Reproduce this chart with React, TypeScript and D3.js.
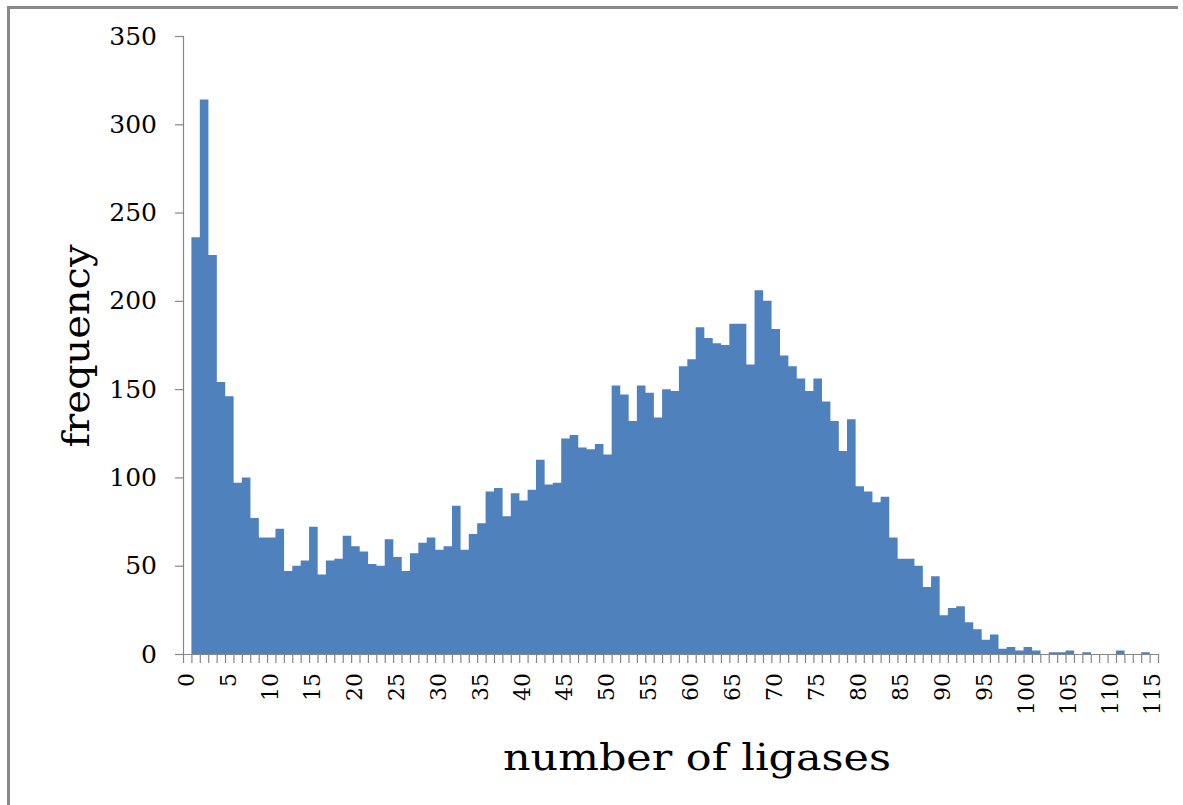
import React from "react";
import * as d3 from "d3";

const ligaseCounts: number[] = d3.range(0, 116);
const frequencies: number[] = [
  0, 236, 314, 226, 154, 146, 97, 100, 77, 66,
  66, 71, 47, 50, 53, 72, 45, 53, 54, 67,
  61, 58, 51, 50, 65, 55, 47, 57, 63, 66,
  59, 61, 84, 59, 68, 74, 92, 94, 78, 91,
  87, 93, 110, 96, 97, 122, 124, 117, 116, 119,
  113, 152, 147, 132, 152, 148, 134, 150, 149, 163,
  167, 185, 179, 176, 175, 187, 187, 164, 206, 200,
  184, 169, 163, 156, 149, 156, 143, 132, 115, 133,
  95, 92, 86, 89, 66, 54, 54, 50, 38, 44,
  22, 26, 27, 18, 14, 8, 11, 3, 4, 2,
  4, 2, 0, 1, 1, 2, 0, 1, 0, 0,
  0, 2, 0, 0, 1, 0,
];
const yTicks: number[] = [0, 50, 100, 150, 200, 250, 300, 350];
const xLabelTicks: number[] = d3.range(0, 116, 5);
const xTitle = "number of ligases";
const yTitle = "frequency";

const W = 1183;
const H = 805;
const left = 183;
const right = 1158;
const top = 36;
const bottom = 654;
const FONT = "'DejaVu Serif', serif";
const AXIS = "#868686";
const BAR = "#4F81BD";

export default function App() {
  const x = d3.scaleBand<number>().domain(ligaseCounts).range([left, right]).padding(0);
  const y = d3.scaleLinear().domain([0, 350]).range([bottom, top]);
  const bw = x.bandwidth();

  const p = d3.path();
  frequencies.forEach((v, i) => {
    if (v > 0) {
      const x0 = x(ligaseCounts[i])!;
      p.rect(x0, y(v), bw + 0.2, y(0) - y(v));
    }
  });

  return (
    <div style={{ position: "absolute", left: 0, top: 0, width: W, height: H, background: "#fff" }}>
      <svg width={W} height={H} style={{ display: "block" }}>
        <rect x={0} y={0} width={W} height={H} fill="#fff" />
        {/* outer frame */}
        <line x1={8.5} y1={7.5} x2={8.5} y2={H} stroke="#8a8a8a" strokeWidth={3} />
        <line x1={7} y1={7.5} x2={1178} y2={7.5} stroke="#8a8a8a" strokeWidth={3} />

        {/* bars */}
        <path d={p.toString()} fill={BAR} fillRule="nonzero" />

        {/* y axis */}
        <line x1={left + 0.5} y1={top} x2={left + 0.5} y2={bottom} stroke={AXIS} strokeWidth={1.2} />
        {yTicks.map((t) => (
          <g key={t}>
            <line x1={left - 8} y1={y(t) + 0.5} x2={left} y2={y(t) + 0.5} stroke={AXIS} strokeWidth={1.2} />
            <text
              x={157}
              y={y(t)}
              textAnchor="end"
              dominantBaseline="central"
              fontFamily={FONT}
              fontSize={25}
              fill="#000"
            >
              {t}
            </text>
          </g>
        ))}

        {/* x axis */}
        <line x1={left} y1={bottom + 0.5} x2={right} y2={bottom + 0.5} stroke={AXIS} strokeWidth={1.2} />
        {d3.range(0, ligaseCounts.length + 1).map((i) => {
          const xx = i < ligaseCounts.length ? x(ligaseCounts[i])! : right;
          return (
            <line
              key={"t" + i}
              x1={xx + 0.5}
              y1={bottom}
              x2={xx + 0.5}
              y2={bottom + 9}
              stroke={AXIS}
              strokeWidth={1.2}
            />
          );
        })}
        {xLabelTicks.map((t) => {
          const cx = x(t)! + bw / 2 - 1;
          return (
            <text
              key={"l" + t}
              transform={`translate(${cx},${673}) rotate(-90)`}
              textAnchor="end"
              dominantBaseline="central"
              fontFamily={FONT}
              fontSize={22}
              fill="#000"
            >
              {t}
            </text>
          );
        })}

        {/* axis titles */}
        <text
          x={697}
          y={770}
          textAnchor="middle"
          fontFamily={FONT}
          fontSize={37}
          textLength={388}
          lengthAdjust="spacingAndGlyphs"
          fill="#000"
        >
          {xTitle}
        </text>
        <text
          transform={`translate(${89},${346}) rotate(-90)`}
          textAnchor="middle"
          fontFamily={FONT}
          fontSize={37}
          textLength={203}
          lengthAdjust="spacingAndGlyphs"
          fill="#000"
        >
          {yTitle}
        </text>
      </svg>
    </div>
  );
}
